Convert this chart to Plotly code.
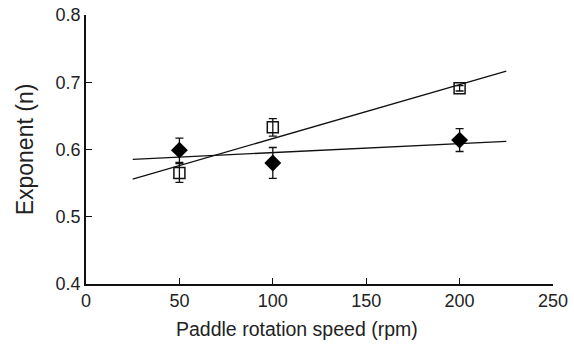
import numpy as np
import plotly.graph_objects as go

speed = [50, 100, 200]
diamond_n = [0.599, 0.580, 0.614]
diamond_err = [0.018, 0.023, 0.017]
square_n = [0.565, 0.633, 0.691]
square_err = [0.014, 0.013, 0.004]
fit_x = [25, 225]

x_ticks = [0, 50, 100, 150, 200, 250]
y_ticks = [0.4, 0.5, 0.6, 0.7, 0.8]
y_labels = ["0.4", "0.5", "0.6", "0.7", "0.8"]

fig = go.Figure()

for ys in (square_n, diamond_n):
    k, b = np.polyfit(speed, ys, 1)
    fig.add_trace(go.Scatter(x=fit_x, y=[k * v + b for v in fit_x], mode="lines",
                             line=dict(color="#111", width=1.3), showlegend=False,
                             hoverinfo="skip"))

fig.add_trace(go.Scatter(x=speed, y=diamond_n, mode="markers",
                         marker=dict(symbol="diamond", size=13, color="#000"),
                         error_y=dict(type="data", array=diamond_err, color="#111",
                                      thickness=1.3, width=4),
                         showlegend=False))
fig.add_trace(go.Scatter(x=speed, y=square_n, mode="markers",
                         marker=dict(symbol="square-open", size=11, color="#111",
                                     line=dict(width=1.5, color="#111")),
                         error_y=dict(type="data", array=square_err, color="#111",
                                      thickness=1.3, width=4),
                         showlegend=False))

axis_font = dict(family="Liberation Sans, Arial, sans-serif", size=18, color="#222")
fig.update_layout(
    width=574, height=344,
    margin=dict(l=86, r=21, t=15, b=60),
    paper_bgcolor="white", plot_bgcolor="white",
    font=axis_font,
    xaxis=dict(range=[0, 250], tickvals=x_ticks, ticks="inside", ticklen=6,
               tickcolor="#111", tickwidth=1.3, showline=True, linecolor="#111",
               linewidth=1.5, showgrid=False, zeroline=False, automargin=False),
    yaxis=dict(range=[0.4, 0.8], tickvals=y_ticks, ticktext=y_labels, ticks="inside",
               ticklen=6, tickcolor="#111", tickwidth=1.3, showline=True,
               linecolor="#111", linewidth=1.5, showgrid=False, zeroline=False,
               automargin=False,
               title=dict(text="Exponent (n)", font=dict(size=23), standoff=16)),
    annotations=[dict(text="Paddle rotation speed (rpm)", xref="paper", yref="paper",
                      x=0.452, y=-0.168, xanchor="center", yanchor="middle",
                      showarrow=False, font=dict(size=19.5, color="#222"))],
)

fig.write_html("out.html")
